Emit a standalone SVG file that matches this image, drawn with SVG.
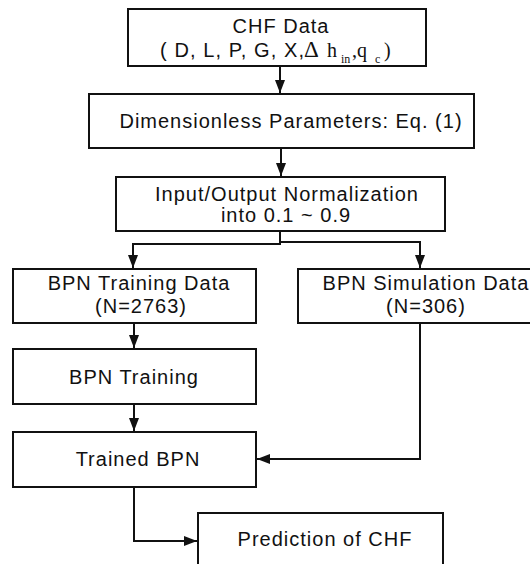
<svg xmlns="http://www.w3.org/2000/svg" width="530" height="564" viewBox="0 0 530 564">
  <style>
    .box { fill: #ffffff; stroke: #111111; stroke-width: 2; }
    .lbl { font-family: "Liberation Sans", Arial, sans-serif; font-size: 20px; letter-spacing: 1px; fill: #111111; text-anchor: middle; }
    .ser { font-family: "Liberation Serif", "Times New Roman", serif; letter-spacing: 0; }
    .wire { fill: none; stroke: #111111; stroke-width: 2; }
  </style>
  <defs>
    <marker id="arrow" markerUnits="userSpaceOnUse" markerWidth="14" markerHeight="11" refX="13" refY="5" orient="auto">
      <path d="M0,0 L13,5 L0,10 z" fill="#111111"/>
    </marker>
  </defs>
  <rect width="530" height="564" fill="#ffffff"/>

  <!-- process steps -->
  <g id="chf-data">
    <rect class="box" x="128" y="9" width="298" height="57"/>
    <text class="lbl" x="281" y="33">CHF Data</text>
    <text class="lbl" x="160" y="57" style="text-anchor:start"><tspan letter-spacing="1.1">( D, L, P, G, X,</tspan><tspan class="ser" x="304" font-size="23">Δ</tspan><tspan class="ser" x="327" font-size="20">h</tspan><tspan class="ser" x="341" y="63" font-size="12">in</tspan><tspan class="ser" x="352" y="57" font-size="20">,q</tspan><tspan class="ser" x="375" y="63" font-size="12">c</tspan><tspan class="ser" x="384" y="57" font-size="20">)</tspan></text>
  </g>

  <g id="dimensionless">
    <rect class="box" x="89" y="94" width="385" height="54"/>
    <text class="lbl" x="291" y="128">Dimensionless Parameters: Eq. (1)</text>
  </g>

  <g id="normalization">
    <rect class="box" x="116" y="177" width="329" height="54"/>
    <text class="lbl" x="287" y="201">Input/Output Normalization</text>
    <text class="lbl" x="286" y="222">into 0.1 ~ 0.9</text>
  </g>

  <g id="training-data">
    <rect class="box" x="13" y="269" width="243" height="54"/>
    <text class="lbl" x="139" y="290">BPN Training Data</text>
    <text class="lbl" x="141" y="313">(N=2763)</text>
  </g>

  <g id="simulation-data">
    <rect class="box" x="298" y="269" width="246" height="54"/>
    <text class="lbl" x="426" y="290">BPN Simulation Data</text>
    <text class="lbl" x="426" y="313">(N=306)</text>
  </g>

  <g id="bpn-training">
    <rect class="box" x="13" y="349" width="243" height="55"/>
    <text class="lbl" x="134" y="384">BPN Training</text>
  </g>

  <g id="trained-bpn">
    <rect class="box" x="13" y="432" width="243" height="55"/>
    <text class="lbl" x="138" y="466">Trained BPN</text>
  </g>

  <g id="prediction">
    <rect class="box" x="198" y="513" width="245" height="60"/>
    <text class="lbl" x="325" y="546">Prediction of CHF</text>
  </g>

  <!-- connectors -->
  <g id="connectors">
    <path class="wire" d="M280,66 V93" marker-end="url(#arrow)"/>
    <path class="wire" d="M281,148 V176" marker-end="url(#arrow)"/>
    <path class="wire" d="M280,231 V244 H133 V268" marker-end="url(#arrow)"/>
    <path class="wire" d="M280,242 H420 V268" marker-end="url(#arrow)"/>
    <path class="wire" d="M134,323 V348" marker-end="url(#arrow)"/>
    <path class="wire" d="M134,404 V431" marker-end="url(#arrow)"/>
    <path class="wire" d="M420,323 V459 H257" marker-end="url(#arrow)"/>
    <path class="wire" d="M134,487 V541 H197" marker-end="url(#arrow)"/>
  </g>
</svg>
